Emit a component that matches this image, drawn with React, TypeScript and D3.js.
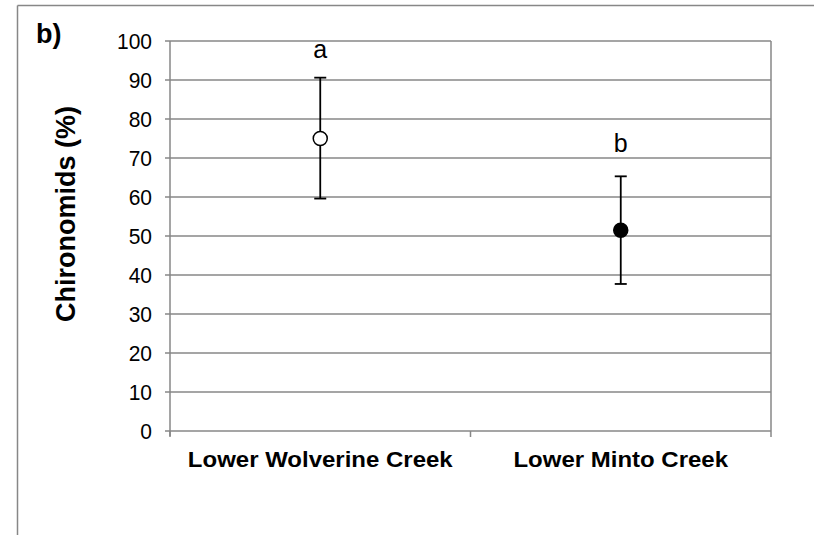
import React from "react";
import * as d3 from "d3";

const categories = ["Lower Wolverine Creek", "Lower Minto Creek"];
const means = [75, 51.5];
const upper = [90.6, 65.3];
const lower = [59.6, 37.7];
const letters = ["a", "b"];
const letterValues = [95.6, 71.5];
const filled = [false, true];
const yTicks = [0, 10, 20, 30, 40, 50, 60, 70, 80, 90, 100];
const panelLabel = "b)";
const yTitle = "Chironomids (%)";

const W = 814;
const H = 535;
const left = 170;
const right = 771;
const top = 41;
const bottom = 431;
const grid = "#878787";
const font = "Liberation Sans, Arial, sans-serif";

export default function App() {
  const y = d3.scaleLinear().domain([0, 100]).range([bottom, top]);
  const x = d3.scaleBand<string>().domain(categories).range([left, right]);
  const cx = (c: string) => (x(c) as number) + x.bandwidth() / 2;
  const boundaries = [left, ...categories.map((c) => (x(c) as number) + x.bandwidth())];
  return (
    <svg
      width={W}
      height={H}
      style={{ position: "absolute", left: 0, top: 0, background: "#fff" }}
    >
      <rect x={0} y={0} width={W} height={H} fill="#fff" />
      {/* outer frame */}
      <line x1={17.5} y1={5.5} x2={W} y2={5.5} stroke={grid} strokeWidth={1.5} />
      <line x1={17.5} y1={5.5} x2={17.5} y2={H} stroke={grid} strokeWidth={1.5} />
      {/* gridlines */}
      {yTicks.map((t) => (
        <line key={t} x1={left} x2={right} y1={y(t)} y2={y(t)} stroke={grid} strokeWidth={1.5} />
      ))}
      {/* right plot border */}
      <line x1={right} x2={right} y1={top} y2={bottom} stroke={grid} strokeWidth={1.5} />
      {/* y axis */}
      <line x1={left} x2={left} y1={top} y2={bottom + 5} stroke={grid} strokeWidth={1.5} />
      {yTicks.map((t) => (
        <line key={"t" + t} x1={left - 5} x2={left} y1={y(t)} y2={y(t)} stroke={grid} strokeWidth={1.5} />
      ))}
      {/* x ticks */}
      {boundaries.map((b, i) => (
        <line key={"xb" + i} x1={b} x2={b} y1={bottom} y2={bottom + 6} stroke={grid} strokeWidth={1.5} />
      ))}
      {/* y tick labels */}
      {yTicks.map((t) => (
        <text
          key={"l" + t}
          transform={`translate(152, ${y(t) + 8}) scale(1, 1.07)`}
          textAnchor="end"
          fontFamily={font}
          fontSize={21}
          fill="#000"
        >
          {t}
        </text>
      ))}
      {/* category labels */}
      {categories.map((c) => (
        <text
          key={c}
          transform={`translate(${cx(c)}, 467) scale(1, 0.92)`}
          textAnchor="middle"
          fontFamily={font}
          fontSize={24}
          fontWeight="bold"
          fill="#000"
        >
          {c}
        </text>
      ))}
      {/* y title */}
      <text
        transform={`translate(75, 322) rotate(-90)`}
        textAnchor="start"
        fontFamily={font}
        fontSize={27}
        fontWeight="bold"
        fill="#000"
      >
        {yTitle}
      </text>
      {/* panel label */}
      <text x={36} y={43} fontFamily={font} fontSize={27} fontWeight="bold" fill="#000">
        {panelLabel}
      </text>
      {/* error bars and points */}
      {categories.map((c, i) => {
        const px = cx(c);
        return (
          <g key={"p" + i}>
            <line x1={px} x2={px} y1={y(upper[i])} y2={y(lower[i])} stroke="#000" strokeWidth={1.8} />
            <line x1={px - 6} x2={px + 6} y1={y(upper[i])} y2={y(upper[i])} stroke="#000" strokeWidth={1.8} />
            <line x1={px - 6} x2={px + 6} y1={y(lower[i])} y2={y(lower[i])} stroke="#000" strokeWidth={1.8} />
            <circle
              cx={px}
              cy={y(means[i])}
              r={7}
              fill={filled[i] ? "#000" : "#fff"}
              stroke="#000"
              strokeWidth={1.5}
            />
            <text
              x={px}
              y={y(letterValues[i])}
              textAnchor="middle"
              fontFamily={font}
              fontSize={25}
              fill="#000"
            >
              {letters[i]}
            </text>
          </g>
        );
      })}
    </svg>
  );
}
